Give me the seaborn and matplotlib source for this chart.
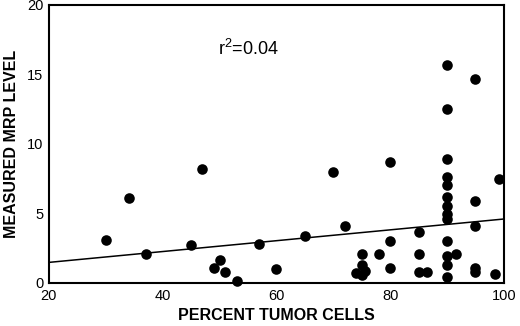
import numpy as np
import pandas as pd
import matplotlib
matplotlib.use("Agg")
import matplotlib.pyplot as plt
import seaborn as sns
from matplotlib.ticker import MultipleLocator

# percent tumor cells vs measured MRP level
pct_tumor = [30, 34, 37, 45, 47, 49, 50, 51, 53, 57, 60,
             65, 70, 72, 75, 75, 74, 75, 75.5, 78,
             80, 80, 80, 85, 85, 85, 86.5,
             90, 90, 90, 90, 90, 90, 90, 90, 90, 90, 90, 90, 90, 91.5,
             95, 95, 95, 95, 95, 98.5, 99.2]
mrp_level = [3.1, 6.1, 2.05, 2.7, 8.2, 1.05, 1.65, 0.77, 0.17, 2.83, 0.98,
             3.4, 8.0, 4.1, 2.1, 1.3, 0.75, 0.55, 0.85, 2.1,
             8.7, 3.05, 1.05, 3.65, 2.1, 0.77, 0.77,
             15.7, 12.5, 8.95, 7.6, 7.05, 6.2, 5.55, 4.95, 4.6, 3.05, 1.92, 1.3, 0.42, 2.1,
             14.7, 5.9, 4.1, 1.1, 0.82, 0.65, 7.45]

# regression line end points
fit_x = [20, 100]
fit_y = [1.48, 4.6]

sns.set_style("white")
plt.rcParams["font.family"] = ["Liberation Sans", "DejaVu Sans"]
plt.rcParams["mathtext.default"] = "regular"
plt.rcParams["text.color"] = "black"
plt.rcParams["axes.labelcolor"] = "black"
plt.rcParams["xtick.labelcolor"] = "black"
plt.rcParams["ytick.labelcolor"] = "black"

df = pd.DataFrame(dict(pct=pct_tumor, mrp=mrp_level))
fit = pd.DataFrame(dict(x=fit_x, y=fit_y))

fig = plt.figure(figsize=(5.2, 3.26), dpi=100)
ax = fig.add_axes([0.094, 0.132, 0.875, 0.853])

sns.lineplot(data=fit, x="x", y="y", color="black", linewidth=1.1, ax=ax)
sns.scatterplot(data=df, x="pct", y="mrp", color="black", s=58,
                linewidth=0, ax=ax, zorder=3, clip_on=False)

ax.set_xlim(20, 100)
ax.set_ylim(0, 20)
ax.xaxis.set_major_locator(MultipleLocator(20))
ax.xaxis.set_minor_locator(MultipleLocator(10))
ax.yaxis.set_major_locator(MultipleLocator(5))
ax.yaxis.set_minor_locator(MultipleLocator(2.5))
ax.tick_params(which="both", direction="in", color="#888888", labelsize=10.5,
               labelcolor="black", pad=4)
ax.tick_params(which="major", length=4, width=0.8)
ax.tick_params(which="minor", length=3, width=0.8)

for sp in ax.spines.values():
    sp.set_linewidth(1.5)
    sp.set_color("black")

ax.set_xlabel("PERCENT TUMOR CELLS", fontsize=11.5, fontweight="bold",
              labelpad=4, color="black")
ax.set_ylabel("MEASURED MRP LEVEL", fontsize=11.5, fontweight="bold",
              labelpad=6, color="black")

ax.text(49.7, 16.4, r"r$^{2}$=0.04", fontsize=13, va="baseline", ha="left",
        color="black")

fig.savefig("out.png", dpi=100)
